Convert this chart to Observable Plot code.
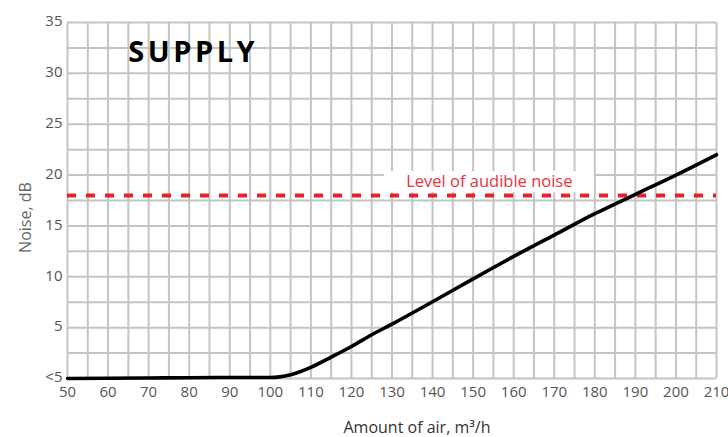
<!DOCTYPE html>
<html>
<head>
<meta charset="utf-8">
<script src="https://cdn.jsdelivr.net/npm/d3@7"></script>
<script src="https://cdn.jsdelivr.net/npm/@observablehq/plot@0.6"></script>
<style>
  html, body { margin: 0; padding: 0; background: #fff; }
  #chart svg { font-family: "Open Sans", sans-serif; display: block; }
</style>
</head>
<body>
<div id="chart"></div>
<script>
// Data
const airflow = [50, 60, 70, 80, 90, 100, 105, 110, 115, 120, 125, 130, 140, 150, 160, 170, 180, 190, 200, 210];
const noise   = [0, 0.02, 0.05, 0.08, 0.1, 0.1, 0.38, 1.1, 2.1, 3.15, 4.3, 5.35, 7.55, 9.8, 12.0, 14.1, 16.2, 18.1, 20.0, 22.0];

const xTicks = [50, 60, 70, 80, 90, 100, 110, 120, 130, 140, 150, 160, 170, 180, 190, 200, 210];
const yTicks = [0, 5, 10, 15, 20, 25, 30, 35];
const yTickLabels = ["<5", "5", "10", "15", "20", "25", "30", "35"];

const audibleLevel = [18];
const audibleLabel = [{x: 154, y: 19.3, text: "Level of audible noise"}];
const titleLabel = [{x: 81, y: 32, text: "SUPPLY"}];
const xLabel = ["Amount of air, m³/h"];
const yLabel = ["Noise, dB"];

const data = airflow.map((a, i) => ({air: a, noise: noise[i]}));
const gridColor = "#c4c4c4";

const plot = Plot.plot({
  width: 728,
  height: 437,
  marginLeft: 67,
  marginRight: 12,
  marginTop: 22,
  marginBottom: 59,
  style: {fontFamily: "'Open Sans', sans-serif", background: "white", fontSize: "15px"},
  x: {domain: [50, 210]},
  y: {domain: [0, 35]},
  marks: [
    Plot.gridX(d3.range(50, 211, 5), {stroke: gridColor, strokeOpacity: 1, strokeWidth: 2}),
    Plot.gridY(d3.range(0, 35.01, 2.5), {stroke: gridColor, strokeOpacity: 1, strokeWidth: 2}),
    Plot.axisX(xTicks, {tickSize: 0, tickPadding: 8, fontSize: 15, fill: "#555", label: null}),
    Plot.axisY(yTicks, {tickSize: 0, tickPadding: 5, fontSize: 15, fill: "#555", label: null, dy: -1,
      tickFormat: d => yTickLabels[yTicks.indexOf(d)]}),
    Plot.rect(audibleLabel, {x1: "x", x2: "x", y1: "y", y2: "y",
      insetLeft: -105, insetRight: -105, insetTop: -10.5, insetBottom: -10.5, fill: "white"}),
    Plot.ruleY(audibleLevel, {stroke: "#e3222c", strokeWidth: 4, strokeDasharray: "9,10"}),
    Plot.text(audibleLabel, {x: "x", y: "y", text: "text", fill: "#e8333d", fontSize: 16.5}),
    Plot.line(data, {x: "air", y: "noise", stroke: "black", strokeWidth: 3.6, curve: "monotone-x"}),
    Plot.text(titleLabel, {x: "x", y: "y", text: "text", fill: "#000", fontSize: 29, fontWeight: "bold"}),
    Plot.text(xLabel, {text: d => d, frameAnchor: "bottom", textAnchor: "middle", lineAnchor: "middle",
      dx: 25, dy: 49, fontSize: 16, fill: "#333"}),
    Plot.text(yLabel, {text: d => d, frameAnchor: "left", textAnchor: "middle", lineAnchor: "middle",
      rotate: -90, dx: -42, dy: 17, fontSize: 16, fill: "#666"})
  ]
});
const tickStrings = new Set([...xTicks.map(String), ...yTickLabels]);
d3.select(plot).selectAll("text").filter(function() { return tickStrings.has(this.textContent); })
  .attr("font-size", 15).style("font-size", "15px");
d3.select(plot).selectAll("text").filter(function() { return this.textContent === "SUPPLY"; })
  .style("letter-spacing", "3.5px");
document.getElementById("chart").appendChild(plot);
</script>
</body>
</html>
